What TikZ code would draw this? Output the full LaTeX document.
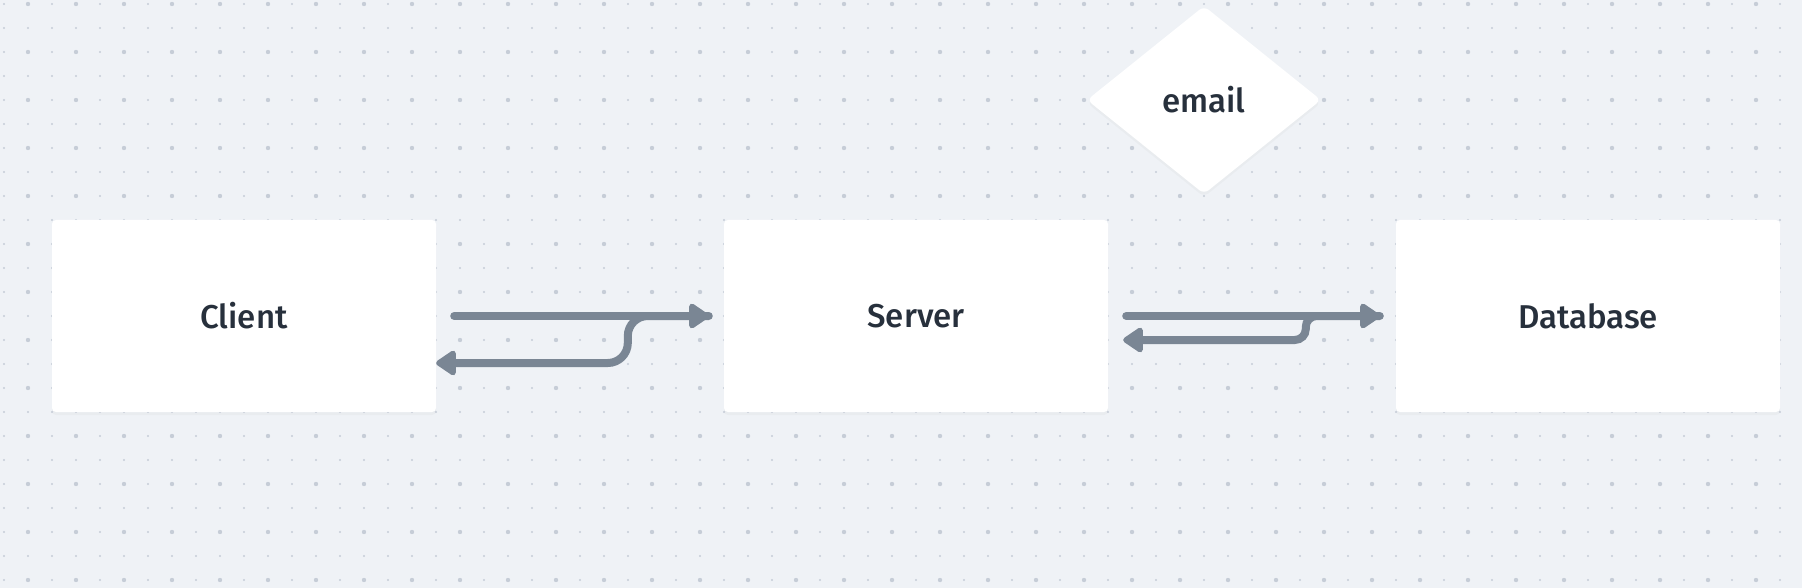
\documentclass[tikz,border=0pt]{standalone}
\usepackage{fontspec}
\setmainfont{Fira Sans}[UprightFont={* Medium}]
\usepackage{tikz}
\usetikzlibrary{shapes.geometric, arrows.meta, shadows}
\definecolor{canvas}{HTML}{EFF2F6}
\definecolor{griddot}{HTML}{C6CDD7}
\definecolor{wire}{HTML}{7A8694}
\definecolor{ink}{HTML}{27303C}

\begin{document}
\begin{tikzpicture}[
    x=1pt, y=-1pt,
    box/.style={rectangle, fill=white, rounded corners=4pt, minimum width=384pt, minimum height=192pt, inner sep=0pt, text=ink, font=\fontsize{33}{40}\selectfont, drop shadow={opacity=0.05, shadow xshift=0pt, shadow yshift=-3pt}},
    decision/.style={diamond, fill=white, rounded corners=6pt, aspect=1.245, minimum width=234pt, minimum height=188pt, inner sep=0pt, text=ink, font=\fontsize{33}{40}\selectfont, drop shadow={opacity=0.05, shadow xshift=0pt, shadow yshift=-3pt}},
    arrow/.style={-{Triangle[length=22pt, width=28pt, round]}, wire, line width=8pt, line cap=round, rounded corners=20pt}
]

% Canvas and dot grid
\fill[canvas] (0,0) rectangle (1802,588);
\useasboundingbox (0,0) rectangle (1802,588);
\foreach \i in {0,...,74}{
  \foreach \j in {0,...,24}{
    \fill[griddot] ({4+24*\i},{4+24*\j}) circle (1.1pt);
  }
}
\foreach \i in {0,...,36}{
  \foreach \j in {0,...,12}{
    \fill[griddot] ({28+48*\i},{4+48*\j}) circle (2.2pt);
  }
}

% Boxes
\node[box] (client) at (244,316) {Client};
\node[box] (server) at (916,316) {Server};
\node[box] (database) at (1588,316) {Database};
\node[decision] (email) at (1204,100) {email};

% Client <-> Server
\draw[arrow, shorten <=18pt, shorten >=15pt] (client.east) -- (server.west);
\draw[arrow] ([xshift=-15pt]server.west) -- ++(-81,0) -- ++(0,47) -- ([yshift=-47pt]client.east);

% Server <-> Database
\draw[arrow, shorten <=18pt, shorten >=16pt] (server.east) -- (database.west);
\draw[arrow, rounded corners=11pt] ([xshift=-16pt]database.west) -- ++(-74,0) -- ++(0,24) -- ([xshift=15pt, yshift=-24pt]server.east);

\end{tikzpicture}
\end{document}
